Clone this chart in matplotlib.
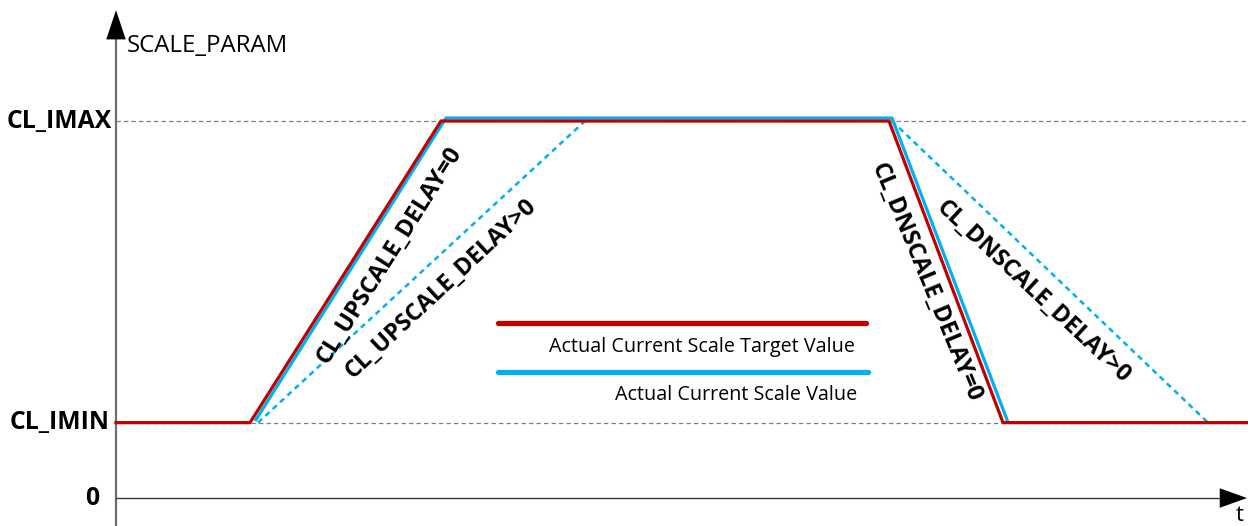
import matplotlib
matplotlib.use("Agg")
import matplotlib.pyplot as plt
from matplotlib.transforms import offset_copy

# ---- data (time axis in arbitrary units, value axis: 0, CL_IMIN=1, CL_IMAX=5) ----
level_names = ["0", "CL_IMIN", "CL_IMAX"]
level_values = [0.0, 1.0, 5.0]

target_t = [0, 134, 325, 773, 887, 1132]
target_v = [1, 1, 5, 5, 1, 1]

actual_t = [137, 327, 773, 888]
actual_v = [1, 5, 5, 1]

up_delay_t = [142, 469]
up_delay_v = [1, 5]
dn_delay_t = [776, 1092]
dn_delay_v = [5, 1]

legend_labels = ["Actual Current Scale Target Value", "Actual Current Scale Value"]

RED = "#C00000"
BLUE = "#00B0F0"
GREY = "#7F7F7F"

FONT = ["Open Sans", "DejaVu Sans"]
plt.rcParams["font.family"] = FONT

fig = plt.figure(figsize=(12.48, 5.26), dpi=100)
ax = fig.add_axes([0, 0, 1, 1])
ax.set_xlim(-116, 1132)
ax.set_ylim(-0.371, 6.605)
ax.axis("off")

# reference dashed lines at CL_IMIN / CL_IMAX
for v in level_values[1:]:
    ax.plot([0, 1132], [v, v], color=GREY, lw=0.9, dashes=(3.5, 2.5), zorder=1)

# axes
ax.plot([0, 0], [-0.371, 6.25], color="#6E6E6E", lw=1.6, zorder=2)
ax.plot([0, 1115], [0, 0], color="#3A3A3A", lw=1.0, zorder=2)
ax.annotate("", xy=(0, 6.47), xytext=(0, 6.1),
            arrowprops=dict(arrowstyle="-|>,head_length=1.5,head_width=0.5",
                            color="black", lw=0.01, shrinkA=0, shrinkB=0,
                            mutation_scale=14))
ax.annotate("", xy=(1131, 0), xytext=(1100, 0),
            arrowprops=dict(arrowstyle="-|>,head_length=1.4,head_width=0.5",
                            color="black", lw=0.01, shrinkA=0, shrinkB=0,
                            mutation_scale=14))

# curves
ax.plot(target_t, target_v, color=RED, lw=2.3, solid_joinstyle="miter", zorder=4)
blue_tr = offset_copy(ax.transData, fig=fig, x=3, y=3, units="dots")
ax.plot(actual_t, actual_v, color=BLUE, lw=2.3, transform=blue_tr, zorder=3)
ax.plot(up_delay_t, up_delay_v, color=BLUE, lw=1.8, dashes=(2.2, 1.8), zorder=3)
ax.plot(dn_delay_t, dn_delay_v, color=BLUE, lw=1.8, dashes=(2.2, 1.8), zorder=3)

# legend (drawn manually)
ax.plot([382, 750], [2.32, 2.32], color=RED, lw=3.8, solid_capstyle="round")
ax.plot([382, 752], [1.67, 1.67], color=BLUE, lw=3.8, solid_capstyle="round")
ax.text(739, 2.0, legend_labels[0], ha="right", va="center", fontsize=14.2)
ax.text(741, 1.37, legend_labels[1], ha="right", va="center", fontsize=14.2)

# level labels
label_x = [-17, -6, -4]
for name, v, x in zip(level_names, level_values, label_x):
    ax.text(x, v, name, ha="right", va="center", fontsize=17.8, fontweight="bold")

ax.text(11, 5.99, "SCALE_PARAM", ha="left", va="center", fontsize=17.3)
ax.text(1124, -0.23, "t", ha="center", va="center", fontsize=16)

# slope annotations
ann = [
    ("CL_UPSCALE_DELAY=0", 274, 3.22, 57.7),
    ("CL_UPSCALE_DELAY>0", 325, 2.77, 43.0),
    ("CL_DNSCALE_DELAY=0", 810, 2.86, -67.5),
    ("CL_DNSCALE_DELAY>0", 917, 2.73, -43.0),
]
for txt, x, y, rot in ann:
    ax.text(x, y, txt, rotation=rot, rotation_mode="anchor", ha="center",
            va="center", fontsize=17, fontweight="bold")

fig.savefig("out.png", dpi=100)
